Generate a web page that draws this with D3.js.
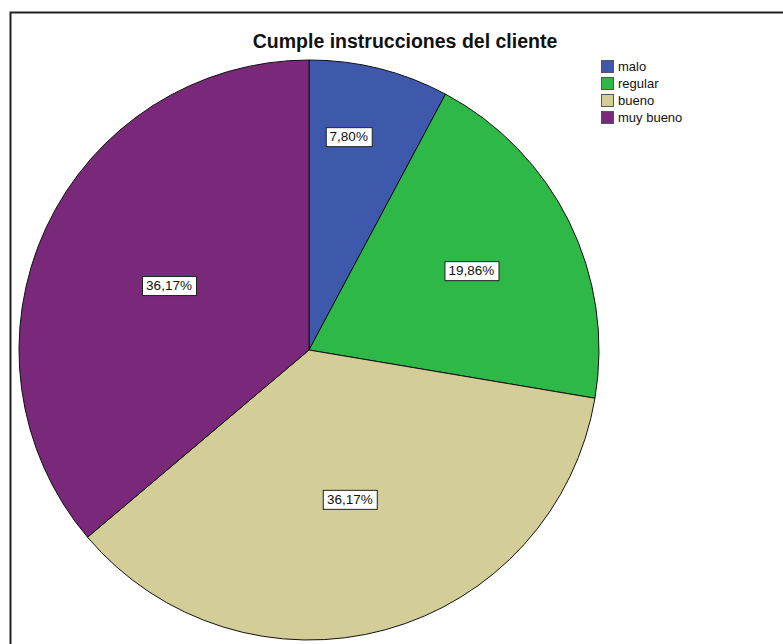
<!DOCTYPE html>
<html>
<head>
<meta charset="utf-8">
<script src="https://cdn.jsdelivr.net/npm/d3@7"></script>
<style>
  body { margin: 0; background: #fff; }
  svg { display: block; font-family: Arial, "Liberation Sans", sans-serif; }
</style>
</head>
<body>
<script>
var width = 783
var height = 644

// data
var categories = ['malo', 'regular', 'bueno', 'muy bueno']
var percents = [7.80, 19.86, 36.17, 36.17]
var labels = ['7,80%', '19,86%', '36,17%', '36,17%']
var colors = ['#3e58ac', '#2eb848', '#d3ce97', '#79287a']
var title = 'Cumple instrucciones del cliente'

var cx = 309, cy = 350, radius = 290

var svg = d3.select('body').append('svg').attr('width', width).attr('height', height)

// outer frame
svg.append('rect').attr('x', 10.5).attr('y', 12.5).attr('width', 820).attr('height', 700)
    .attr('fill', '#fff').attr('stroke', '#222').attr('stroke-width', 2)

svg.append('text').text(title)
    .attr('x', 405).attr('y', 48).attr('text-anchor', 'middle')
    .attr('font-size', 19.5).attr('font-weight', 'bold').attr('fill', '#111')

var data = categories.map((c, i) => ({ cat: c, value: percents[i], label: labels[i], color: colors[i] }))

var pie = d3.pie().value(d => d.value).sort(null)
var arc = d3.arc().innerRadius(0).outerRadius(radius)
var arcs = pie(data)

var g = svg.append('g').attr('transform', `translate(${cx},${cy})`)

g.selectAll('path').data(arcs).enter().append('path')
    .attr('d', arc)
    .attr('fill', d => d.data.color)
    .attr('stroke', '#111').attr('stroke-width', 1)

// label at sector centroid (small slices pushed out a bit)
function labelPos(d) {
    var a = (d.endAngle - d.startAngle) / 2
    var mid = (d.startAngle + d.endAngle) / 2
    var r = 2 * radius * Math.sin(a) / (3 * a)
    if (d.data.value < 10) { r = radius * 0.75; mid = mid * 0.75 }
    return [r * Math.sin(mid), -r * Math.cos(mid)]
}

var lab = g.selectAll('g.lab').data(arcs).enter().append('g')
    .attr('class', 'lab')
    .attr('transform', d => `translate(${labelPos(d)})`)

lab.append('text')
    .text(d => d.data.label)
    .attr('text-anchor', 'middle').attr('dy', '0.35em')
    .attr('font-size', 13.5).attr('fill', '#111')
    .each(function () {
        var b = this.getBBox()
        d3.select(this.parentNode).insert('rect', 'text')
            .attr('x', Math.round(b.x - 4) + 0.5).attr('y', Math.round(b.y - 2) + 0.5)
            .attr('width', Math.round(b.width + 8)).attr('height', Math.round(b.height + 4))
            .attr('fill', '#fff').attr('stroke', '#222').attr('stroke-width', 1)
    })

// legend
var legend = svg.append('g').attr('transform', 'translate(601,60)')
var item = legend.selectAll('g').data(data).enter().append('g')
    .attr('transform', (d, i) => `translate(0,${i * 17})`)
item.append('rect').attr('x', 0.5).attr('y', 0.5).attr('width', 12).attr('height', 12)
    .attr('fill', d => d.color).attr('stroke', '#555')
item.append('text').text(d => d.cat)
    .attr('x', 17).attr('y', 6.5).attr('dy', '0.35em')
    .attr('font-size', 13).attr('fill', '#111')
</script>
</body>
</html>
